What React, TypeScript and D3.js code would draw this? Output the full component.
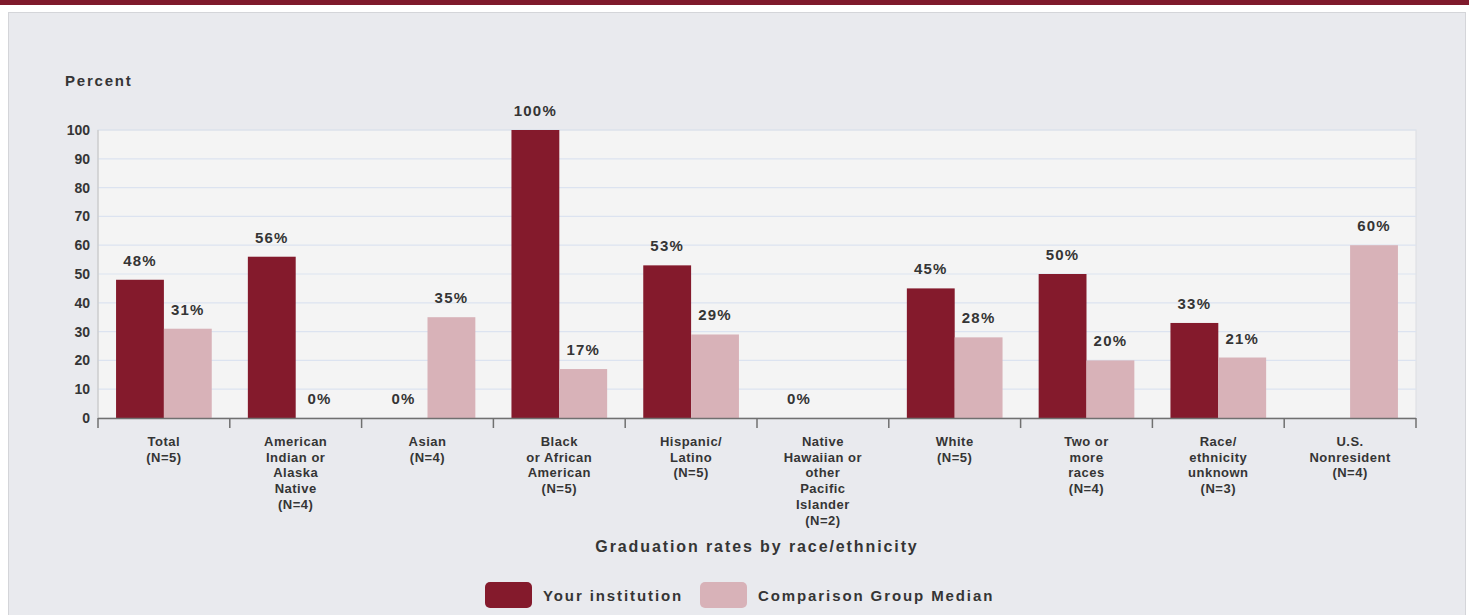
import React from "react";
import * as d3 from "d3";

const categories = [
  ["Total", "(N=5)"],
  ["American", "Indian or", "Alaska", "Native", "(N=4)"],
  ["Asian", "(N=4)"],
  ["Black", "or African", "American", "(N=5)"],
  ["Hispanic/", "Latino", "(N=5)"],
  ["Native", "Hawaiian or", "other", "Pacific", "Islander", "(N=2)"],
  ["White", "(N=5)"],
  ["Two or", "more", "races", "(N=4)"],
  ["Race/", "ethnicity", "unknown", "(N=3)"],
  ["U.S.", "Nonresident", "(N=4)"],
];
const yourInstitution: (number | null)[] = [48, 56, 0, 100, 53, 0, 45, 50, 33, null];
const comparisonMedian: (number | null)[] = [31, 0, 35, 17, 29, null, 28, 20, 21, 60];
const yTicks = [0, 10, 20, 30, 40, 50, 60, 70, 80, 90, 100];
const seriesNames = ["Your institution", "Comparison Group Median"];
const seriesColors = ["#841a2c", "#d8b2b8"];

export default function App() {
  const W = 1469, H = 615;
  const left = 98, right = 1416, top = 130, bottom = 418;
  const x0 = d3.scaleBand<number>().domain(d3.range(categories.length)).range([left, right]).paddingInner(0).paddingOuter(0);
  const bw = x0.bandwidth();
  const x1 = d3.scaleBand<number>().domain([0, 1]).range([bw * 0.137, bw * (1 - 0.137)]).padding(0);
  const y = d3.scaleLinear().domain([0, 100]).range([bottom, top]);
  const txt = "#353535";
  const series = [yourInstitution, comparisonMedian];
  const font = "'Liberation Sans', Arial, sans-serif";

  return (
    <svg width={W} height={H} style={{ position: "absolute", left: 0, top: 0 }} fontFamily={font}>
      <rect x={0} y={0} width={W} height={H} fill="#ffffff" />
      <rect x={0} y={0} width={W} height={5} fill="#7f1a2c" />
      <rect x={8.5} y={12.5} width={1457} height={620} fill="#e9eaee" stroke="#d4d5d9" />
      {/* plot area */}
      <rect x={left} y={top} width={right - left} height={bottom - top} fill="#f4f4f4" stroke="#dcdde2" />
      {yTicks.filter((t) => t > 0).map((t) => (
        <line key={t} x1={left} x2={right} y1={y(t)} y2={y(t)} stroke="#dce3f0" strokeWidth={1.2} />
      ))}
      <line x1={left} x2={left} y1={top} y2={bottom} stroke="#c4c4c4" />
      {yTicks.map((t) => (
        <text key={t} x={90} y={y(t) + 5} textAnchor="end" fontSize={14} fontWeight="bold" fill={txt}>{t}</text>
      ))}
      <text x={65} y={86} fontSize={15} fontWeight="bold" fill={txt} letterSpacing={1.8}>Percent</text>
      {/* bars */}
      {categories.map((c, i) => (
        <g key={i} transform={`translate(${x0(i)},0)`}>
          {series.map((s, k) => {
            const v = s[i];
            if (v === null) return null;
            const bx = x1(k)!;
            const bwid = x1.bandwidth();
            return (
              <g key={k}>
                {v > 0 && <rect x={bx} y={y(v)} width={bwid} height={bottom - y(v)} fill={seriesColors[k]} />}
                <text x={bx + bwid / 2} y={y(v) - 14} textAnchor="middle" fontSize={15} fontWeight="bold" fill={txt} letterSpacing={1.2}>{v}%</text>
              </g>
            );
          })}
        </g>
      ))}
      {/* x axis */}
      <line x1={left} x2={right} y1={bottom + 0.5} y2={bottom + 0.5} stroke="#707070" strokeWidth={1.5} />
      {d3.range(categories.length + 1).map((i) => {
        const xx = i < categories.length ? x0(i)! : right;
        return <line key={i} x1={xx} x2={xx} y1={bottom} y2={bottom + 10} stroke="#707070" strokeWidth={1.5} />;
      })}
      {categories.map((c, i) => (
        <text key={i} x={x0(i)! + bw / 2} y={446} textAnchor="middle" fontSize={13} fontWeight="bold" fill={txt} letterSpacing={0.5}>
          {c.map((line, j) => (
            <tspan key={j} x={x0(i)! + bw / 2} dy={j === 0 ? 0 : 15.7}>{line}</tspan>
          ))}
        </text>
      ))}
      <text x={757} y={552} textAnchor="middle" fontSize={16} fontWeight="bold" fill={txt} letterSpacing={1.9}>Graduation rates by race/ethnicity</text>
      {/* legend */}
      {[485, 700].map((lx, k) => (
        <g key={k}>
          <rect x={lx} y={582} width={47} height={26} rx={5} fill={seriesColors[k]} />
          <text x={lx + 58} y={601} fontSize={15} fontWeight="bold" fill={txt} letterSpacing={1.9}>{seriesNames[k]}</text>
        </g>
      ))}
    </svg>
  );
}
